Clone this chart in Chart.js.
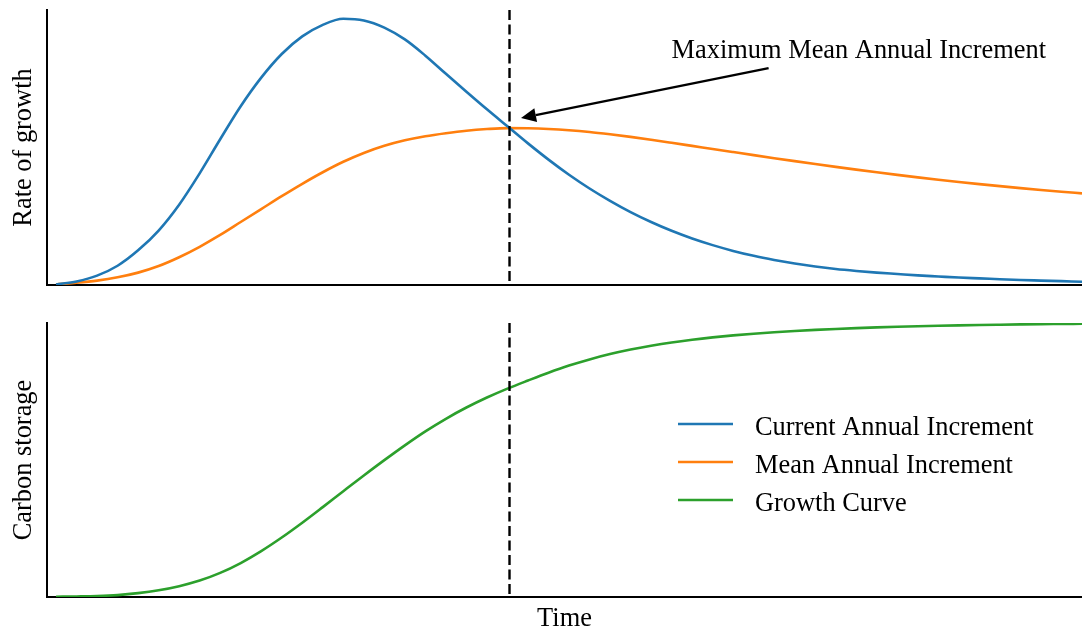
<!DOCTYPE html>
<html>
<head>
<meta charset="utf-8">
<title>Forest growth, increment and carbon storage</title>
<script src="https://cdn.jsdelivr.net/npm/chart.js@4.4.1/dist/chart.umd.min.js"></script>
<style>
  html, body { margin: 0; padding: 0; background: #ffffff; }
  #wrap { position: relative; width: 1082px; height: 632px; overflow: hidden; }
  canvas { position: absolute; left: 0; }
  #rate { top: 0; }
  #carbon { top: 300px; }
</style>
</head>
<body>
<div id="wrap">
  <canvas id="rate" width="1082" height="300"></canvas>
  <canvas id="carbon" width="1082" height="332"></canvas>
</div>
<script>
// Stand age (arbitrary time units)
const years = [0, 2, 4, 6, 8, 10, 12, 14, 16, 18, 20, 22, 24, 26, 28, 30, 32, 34, 36, 38, 40,
  42, 44, 46, 48, 50, 52, 54, 56, 58, 60, 62, 64, 66, 68, 70, 72, 74, 76, 78, 80,
  82, 84, 86, 88, 90, 92, 94, 96, 98, 100];

// Current annual increment (relative rate of growth)
const currentAnnualIncrement = [0.2, 1.3, 3.4, 7.0, 12.6, 19.8, 29.2, 40.6, 53.0, 65.0, 75.4,
  84.0, 90.4, 94.6, 96.8, 96.2, 93.6, 89.3, 83.4, 76.8, 70.3,
  63.9, 57.7, 51.5, 45.6, 40.1, 35.1, 30.6, 26.5, 22.9, 19.7,
  16.9, 14.5, 12.4, 10.6, 9.1, 7.8, 6.7, 5.8, 5.1, 4.5,
  4.0, 3.5, 3.1, 2.7, 2.4, 2.1, 1.8, 1.6, 1.4, 1.2];

// Mean annual increment (relative rate of growth)
const meanAnnualIncrement = [0.2, 0.8, 1.6, 2.8, 4.5, 6.9, 10.1, 13.9, 18.2, 22.9, 27.6,
  32.3, 36.8, 41.0, 44.8, 48.0, 50.6, 52.6, 54.1, 55.2, 56.1,
  56.7, 57.05, 57.0, 56.75, 56.3, 55.65, 54.8, 53.85, 52.8, 51.7,
  50.58, 49.46, 48.34, 47.22, 46.12, 45.04, 43.98, 42.95, 41.95, 40.98,
  40.04, 39.14, 38.28, 37.46, 36.68, 35.94, 35.24, 34.57, 33.93, 33.32];

// Cumulative growth curve (relative carbon storage)
const growthCurve = [0.1, 0.2, 0.35, 0.7, 1.4, 2.45, 3.95, 6.0, 8.8, 12.4, 16.75,
  21.7, 27.1, 32.8, 38.6, 44.35, 49.95, 55.35, 60.45, 65.05, 69.15,
  72.8, 76.05, 79.0, 81.85, 84.45, 86.7, 88.65, 90.3, 91.7, 92.9,
  93.9, 94.75, 95.47, 96.09, 96.62, 97.08, 97.48, 97.83, 98.13, 98.39,
  98.62, 98.82, 98.99, 99.14, 99.27, 99.38, 99.48, 99.57, 99.65, 99.72];

// Age at which the mean annual increment peaks (where MAI meets CAI)
const peakYear = 44.2;
const peakMAI = 57.05;

const seriesNames = ['Current Annual Increment', 'Mean Annual Increment', 'Growth Curve'];
const seriesColors = ['#1f77b4', '#ff7f0e', '#2ca02c'];

const annotationText = 'Maximum Mean Annual Increment';
const annotationAt = { x: 60, y: 82.5 };

const SERIF = "'Liberation Serif', 'Times New Roman', serif";
const FONT_SIZE = 26.4;

function toPoints(values) {
  return values.map((v, i) => ({ x: years[i], y: v }));
}

function lineDataset(label, values, color) {
  return {
    label: label,
    data: toPoints(values),
    borderColor: color,
    backgroundColor: color,
    borderWidth: 2.6,
    pointRadius: 0,
    fill: false,
    cubicInterpolationMode: 'monotone'
  };
}

// Vertical dashed marker at the age of maximum MAI
const peakLine = {
  id: 'peakLine',
  afterDatasetsDraw(chart) {
    const { ctx, chartArea } = chart;
    const x = chart.scales.x.getPixelForValue(peakYear);
    ctx.save();
    ctx.strokeStyle = '#000000';
    ctx.lineWidth = 2.4;
    ctx.setLineDash([10, 4.5]);
    ctx.beginPath();
    ctx.moveTo(x, chartArea.top);
    ctx.lineTo(x, chartArea.bottom);
    ctx.stroke();
    ctx.restore();
  }
};

// Text label with an arrow pointing at the MAI peak
const peakAnnotation = {
  id: 'peakAnnotation',
  afterDatasetsDraw(chart) {
    const { ctx } = chart;
    const xs = chart.scales.x, ys = chart.scales.y;
    const tx = xs.getPixelForValue(annotationAt.x);
    const ty = ys.getPixelForValue(annotationAt.y);
    ctx.save();
    ctx.font = FONT_SIZE + 'px ' + SERIF;
    ctx.fillStyle = '#000000';
    ctx.textAlign = 'left';
    ctx.textBaseline = 'alphabetic';
    ctx.fillText(annotationText, tx, ty);

    const x0 = tx + 97, y0 = ty + 10;
    const x1 = xs.getPixelForValue(peakYear) + 11.5;
    const y1 = ys.getPixelForValue(peakMAI) - 10;
    const ang = Math.atan2(y1 - y0, x1 - x0);
    const headLen = 15, headHalf = 7;
    const bx = x1 - headLen * Math.cos(ang), by = y1 - headLen * Math.sin(ang);
    ctx.strokeStyle = '#000000';
    ctx.lineWidth = 2.5;
    ctx.beginPath();
    ctx.moveTo(x0, y0);
    ctx.lineTo(bx, by);
    ctx.stroke();
    ctx.beginPath();
    ctx.moveTo(x1, y1);
    ctx.lineTo(bx + headHalf * Math.sin(ang), by - headHalf * Math.cos(ang));
    ctx.lineTo(bx - headHalf * Math.sin(ang), by + headHalf * Math.cos(ang));
    ctx.closePath();
    ctx.fillStyle = '#000000';
    ctx.fill();
    ctx.restore();
  }
};

// Legend listing all three curves, placed centre-right in the lower panel
const curveLegend = {
  id: 'curveLegend',
  afterDraw(chart) {
    const { ctx, chartArea } = chart;
    const midY = (chartArea.top + chartArea.bottom) / 2 + 2;
    const rowGap = 38;
    ctx.save();
    ctx.font = FONT_SIZE + 'px ' + SERIF;
    ctx.textAlign = 'left';
    ctx.textBaseline = 'alphabetic';
    seriesNames.forEach((name, i) => {
      const y = midY + (i - 1) * rowGap;
      ctx.strokeStyle = seriesColors[i];
      ctx.lineWidth = 2.6;
      ctx.beginPath();
      ctx.moveTo(chartArea.right - 404, y);
      ctx.lineTo(chartArea.right - 349, y);
      ctx.stroke();
      ctx.fillStyle = '#000000';
      ctx.fillText(name, chartArea.right - 327, y + 10.5);
    });
    ctx.restore();
  }
};

function axes(yTitle, xTitle, xHeight) {
  return {
    x: {
      type: 'linear',
      min: -0.88,
      max: 100,
      ticks: { display: false },
      grid: { display: false },
      border: { display: true, color: '#000000', width: 2 },
      title: {
        display: !!xTitle,
        text: xTitle || '',
        color: '#000000',
        font: { family: SERIF, size: FONT_SIZE, lineHeight: 1 },
        padding: { top: 0, bottom: 0 }
      },
      afterFit(scale) { scale.height = xHeight; }
    },
    y: {
      type: 'linear',
      min: 0,
      max: 100,
      ticks: { display: false },
      grid: { display: false },
      border: { display: true, color: '#000000', width: 2 },
      title: {
        display: true,
        text: yTitle,
        color: '#000000',
        font: { family: SERIF, size: FONT_SIZE, lineHeight: 1 },
        padding: { top: 11, bottom: 0 }
      },
      afterFit(scale) { scale.width = 47; }
    }
  };
}

const common = {
  responsive: false,
  animation: false,
  devicePixelRatio: 1,
  events: [],
  plugins: { legend: { display: false }, tooltip: { enabled: false } }
};

new Chart(document.getElementById('rate'), {
  type: 'line',
  data: {
    datasets: [
      lineDataset(seriesNames[0], currentAnnualIncrement, seriesColors[0]),
      lineDataset(seriesNames[1], meanAnnualIncrement, seriesColors[1])
    ]
  },
  options: Object.assign({}, common, {
    layout: { padding: { top: 10, right: 0, bottom: 0, left: 0 } },
    scales: axes('Rate of growth', null, 15)
  }),
  plugins: [peakLine, peakAnnotation]
});

new Chart(document.getElementById('carbon'), {
  type: 'line',
  data: {
    datasets: [
      lineDataset(seriesNames[2], growthCurve, seriesColors[2])
    ]
  },
  options: Object.assign({}, common, {
    layout: { padding: { top: 23, right: 0, bottom: 0, left: 0 } },
    scales: axes('Carbon storage', 'Time', 35)
  }),
  plugins: [peakLine, curveLegend]
});
</script>
</body>
</html>
